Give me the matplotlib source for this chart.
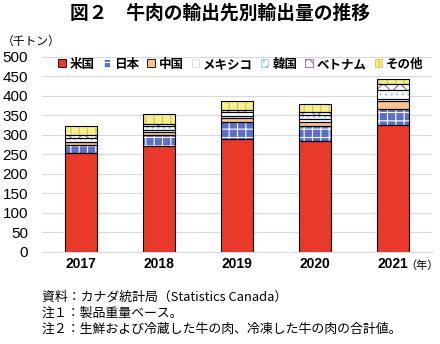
import numpy as np
import matplotlib
matplotlib.use("Agg")
import matplotlib.pyplot as plt
from matplotlib.patches import Patch

plt.rcParams['font.family'] = ['Noto Sans CJK JP', 'DejaVu Sans']
plt.rcParams['hatch.linewidth'] = 0.8

# ── Data (thousand tonnes) ─────────────────────────────────────────────────────
years   = ["2017", "2018", "2019", "2020", "2021"]
usa     = [254, 271, 290, 284, 324]
japan   = [19, 27, 43, 38, 43]
china   = [7, 10, 11, 10, 19]
mexico  = [2, 5, 4, 8, 5]
korea   = [10, 9, 9, 10, 23]
vietnam = [6, 5, 6, 9, 15]
other   = [25, 25, 23, 20, 13]

labels = ["米国", "日本", "中国", "メキシコ", "韓国", "ベトナム", "その他"]
series = [usa, japan, china, mexico, korea, vietnam, other]

# face colour, hatch, hatch colour
styles = [
    ("#e8392a", None, None),
    ("#5d6fc4", "++", "white"),
    ("#f9c490", None, None),
    ("white", "..", "#dddddd"),
    ("white", "...", "#8fc9e0"),
    ("white", "xx", "#8a6aa8"),
    ("#f6ef92", "||", "#d6c24a"),
]

fig = plt.figure(figsize=(4.4, 3.44), dpi=100)
ax = fig.add_axes([42 / 440, 1 - 251.7 / 344, 390 / 440, 195 / 344])

x = np.arange(len(years))
width = 0.42
bottom = np.zeros(len(years))
for vals, (fc, hatch, hc) in zip(series, styles):
    vals = np.array(vals, dtype=float)
    ax.bar(x, vals, width, bottom=bottom, color=fc, linewidth=0, zorder=2)
    if hatch:
        ax.bar(x, vals, width, bottom=bottom, facecolor="none", edgecolor=hc,
               hatch=hatch, linewidth=0, zorder=3)
    ax.bar(x, vals, width, bottom=bottom, facecolor="none", edgecolor="black",
           linewidth=0.8, zorder=4)
    bottom += vals

ax.set_xlim(-0.5, 4.5)
ax.set_ylim(0, 500)
ax.set_yticks(np.arange(0, 501, 50))
ax.set_xticks(x)
ax.set_xticklabels(years, fontsize=10, fontweight="bold", family="Liberation Sans")
for t in ax.get_yticklabels():
    t.set_family("Liberation Sans")
    t.set_fontsize(11)
ax.tick_params(length=0, pad=4)
ax.tick_params(axis="y", pad=10)
ax.grid(axis="y", color="#d9d9d9", linewidth=0.8, zorder=0)
for s in ["top", "right", "left"]:
    ax.spines[s].set_visible(False)
ax.spines["bottom"].set_color("#d9d9d9")

handles = []
for lab, (fc, hatch, hc) in zip(labels, styles):
    handles.append(Patch(facecolor=fc, edgecolor=hc if hatch else "black",
                         hatch=hatch, linewidth=0.6, label=lab))
ax.legend(handles=handles, ncol=7, loc="upper center", bbox_to_anchor=(0.51, 1.02),
          frameon=False, handlelength=0.6, handleheight=0.6,
          handletextpad=0.3, columnspacing=0.65, borderaxespad=0,
          prop={"weight": "bold", "size": 9})

fig.text(0.5, 1 - 13 / 344, "図２　牛肉の輸出先別輸出量の推移", ha="center", va="center",
         fontsize=13.5, fontweight="bold")
fig.text(2 / 440, 1 - 41 / 344, "（千トン）", ha="left", va="center", fontsize=8.5)
fig.text(439 / 440, 1 - 266 / 344, "（年）", ha="right", va="center", fontsize=8)

notes = ["資料：カナダ統計局（Statistics Canada）",
         "注１：製品重量ベース。",
         "注２：生鮮および冷蔵した牛の肉、冷凍した牛の肉の合計値。"]
for i, n in enumerate(notes):
    fig.text(42 / 440, 1 - (297 + i * 16.3) / 344, n, ha="left", va="center", fontsize=9.3)

fig.savefig("out.png", dpi=100)
